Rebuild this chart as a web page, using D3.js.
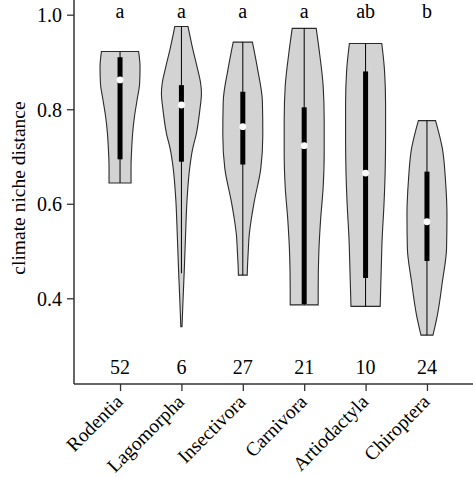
<!DOCTYPE html>
<html>
<head>
<meta charset="utf-8">
<script src="https://cdn.jsdelivr.net/npm/d3@7"></script>
<style>
  html, body { margin: 0; padding: 0; background: #fff; }
  svg { display: block; }
  svg text { font-family: "Liberation Serif", "Times New Roman", serif; fill: #000; }
</style>
</head>
<body>
<svg id="chart" width="473" height="477"></svg>
<script>
const categories = ["Rodentia", "Lagomorpha", "Insectivora", "Carnivora", "Artiodactyla", "Chiroptera"];
const counts = [52, 6, 27, 21, 10, 24];
const letters = ["a", "a", "a", "a", "ab", "b"];
const medians = [0.862, 0.809, 0.763, 0.723, 0.665, 0.562];
const q1 = [0.694, 0.689, 0.683, 0.388, 0.443, 0.479];
const q3 = [0.910, 0.851, 0.837, 0.804, 0.880, 0.668];
const whiskerLow = [0.644, 0.453, 0.449, 0.386, 0.383, 0.322];
const whiskerHigh = [0.922, 0.975, 0.942, 0.971, 0.939, 0.776];
const yTicks = [0.4, 0.6, 0.8, 1.0];

// violin density profiles: values along the y axis and relative density (max = 1)
const densityValues = [
  [0.922, 0.890, 0.855, 0.819, 0.784, 0.749, 0.714, 0.678, 0.644],
  [0.975, 0.925, 0.890, 0.855, 0.834, 0.798, 0.749, 0.714, 0.678, 0.608, 0.537, 0.467, 0.396, 0.340],
  [0.942, 0.887, 0.816, 0.745, 0.675, 0.604, 0.569, 0.534, 0.498, 0.463, 0.449],
  [0.971, 0.918, 0.848, 0.777, 0.707, 0.636, 0.566, 0.495, 0.424, 0.386],
  [0.939, 0.880, 0.810, 0.739, 0.669, 0.598, 0.527, 0.457, 0.383],
  [0.776, 0.717, 0.647, 0.576, 0.506, 0.435, 0.364, 0.322]
];
const densityWidths = [
  [0.93, 1.00, 0.98, 0.85, 0.72, 0.63, 0.58, 0.55, 0.55],
  [0.33, 0.58, 0.78, 0.96, 1.00, 0.92, 0.75, 0.55, 0.42, 0.28, 0.21, 0.15, 0.08, 0.03],
  [0.48, 0.73, 0.98, 1.00, 0.90, 0.57, 0.43, 0.32, 0.27, 0.23, 0.22],
  [0.60, 0.77, 0.95, 1.00, 1.00, 0.95, 0.82, 0.73, 0.70, 0.70],
  [0.81, 0.95, 1.00, 1.00, 0.98, 0.92, 0.83, 0.78, 0.73],
  [0.43, 0.77, 0.93, 1.00, 0.98, 0.77, 0.52, 0.30]
];

const svg = d3.select("#chart");
const axisLeftX = 74, axisBottomY = 384;
const FONT = "Liberation Serif, Times New Roman, serif";

const y = d3.scaleLinear().domain([0.4, 1.0]).range([298.3, 14.7]);
const x = d3.scalePoint().domain(categories).range([axisLeftX, 473]).padding(0.75);
const w = d3.scaleLinear().domain([0, 1]).range([0, 20]);

const fs = 20;

// Violins
categories.forEach((c, i) => {
  const cx = x(c);
  const pts = densityValues[i].map((v, j) => [v, densityWidths[i][j]]);
  const area = d3.area()
    .y(d => y(d[0]))
    .x0(d => cx - w(d[1]))
    .x1(d => cx + w(d[1]))
    .curve(d3.curveMonotoneY);
  const g = svg.append("g");
  g.append("path")
    .attr("d", area(pts))
    .attr("fill", "#d3d3d3")
    .attr("stroke", "#2a2a2a")
    .attr("stroke-width", 1.1);
  g.append("line")
    .attr("x1", cx).attr("x2", cx)
    .attr("y1", y(whiskerHigh[i])).attr("y2", y(whiskerLow[i]))
    .attr("stroke", "#000").attr("stroke-width", 1);
  g.append("rect")
    .attr("x", cx - 2.5).attr("width", 5)
    .attr("y", y(q3[i])).attr("height", y(q1[i]) - y(q3[i]))
    .attr("fill", "#000");
  g.append("circle")
    .attr("cx", cx).attr("cy", y(medians[i])).attr("r", 3.4)
    .attr("fill", "#fff");
  svg.append("text")
    .attr("x", cx).attr("y", 18)
    .attr("text-anchor", "middle")
    .attr("font-family", FONT)
    .attr("font-size", fs)
    .text(letters[i]);
  svg.append("text")
    .attr("x", cx).attr("y", 374)
    .attr("text-anchor", "middle")
    .attr("font-family", FONT)
    .attr("font-size", fs)
    .text(counts[i]);
});

// Y axis
const yAxis = d3.axisLeft(y).tickValues(yTicks).tickFormat(d3.format(".1f")).tickSize(7).tickPadding(5);
const gy = svg.append("g").attr("transform", `translate(${axisLeftX},0)`)
  .call(yAxis)
  .attr("font-family", FONT).attr("font-size", fs);
gy.select(".domain").remove();
gy.selectAll(".tick line").attr("stroke", "#333").attr("stroke-width", 1.3);
gy.selectAll(".tick text").attr("fill", "#000").attr("dy", "0.34em");
svg.append("line")
  .attr("x1", axisLeftX).attr("x2", axisLeftX)
  .attr("y1", 0).attr("y2", axisBottomY)
  .attr("stroke", "#333").attr("stroke-width", 1.5);

// X axis
const xAxis = d3.axisBottom(x).tickSize(7).tickFormat("");
const gx = svg.append("g").attr("transform", `translate(0,${axisBottomY})`).call(xAxis);
gx.select(".domain").remove();
gx.selectAll(".tick line").attr("stroke", "#333").attr("stroke-width", 1.3);
svg.append("line")
  .attr("x1", axisLeftX).attr("x2", 473)
  .attr("y1", axisBottomY).attr("y2", axisBottomY)
  .attr("stroke", "#333").attr("stroke-width", 1.5);

categories.forEach(c => {
  const tx = x(c) + 4, ty = 403;
  svg.append("text")
    .attr("transform", `translate(${tx},${ty}) rotate(-45)`)
    .attr("text-anchor", "end")
    .attr("font-family", FONT)
    .attr("font-size", 19.5)
    .text(c);
});

// Y title
svg.append("text")
  .attr("transform", `translate(25,188) rotate(-90)`)
  .attr("text-anchor", "middle")
  .attr("font-family", FONT)
  .attr("font-size", 19.5)
  .text("climate niche distance");
</script>
</body>
</html>
